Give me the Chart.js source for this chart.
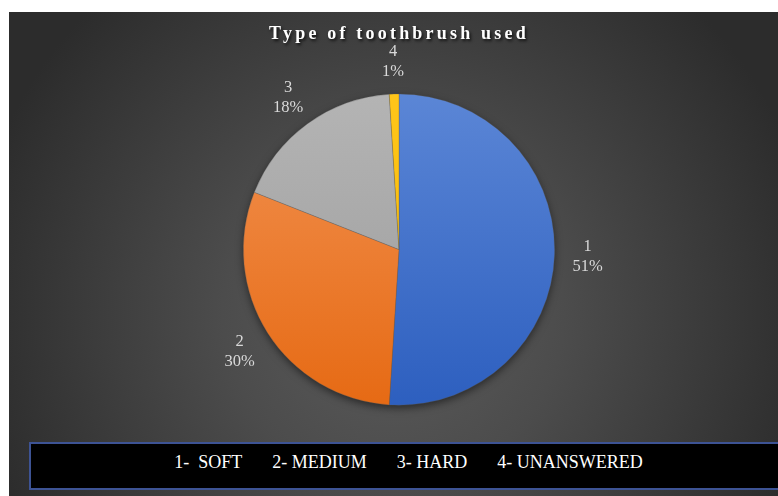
<!DOCTYPE html>
<html>
<head>
<meta charset="utf-8">
<script src="https://cdn.jsdelivr.net/npm/chart.js@4/dist/chart.umd.min.js"></script>
<style>
  html, body { margin:0; padding:0; background:#fff; }
  #wrap {
    position:absolute; left:9px; top:12px; width:769px; height:484px; overflow:hidden;
    background: radial-gradient(circle at 50% 62%, #5c5c5c 0%, #4c4c4c 35%, #2c2c2c 88%);
  }
  #wrap canvas { position:absolute; left:0; top:0; }
  #keyBox {
    position:absolute; left:20px; right:-10px; top:430px;
    border:2px solid #3d5394; background:#000;
    display:flex; justify-content:center; align-items:center; padding-bottom:7px; box-sizing:content-box;
    height:37px;
    font-family:'Liberation Serif', 'Times New Roman', serif; font-size:18px; color:#fff;
    white-space:pre;
  }
  #keyBox span { margin:0 15px; }
</style>
</head>
<body>
<div id="wrap">
  <canvas id="pie" width="769" height="484"></canvas>
  <div id="keyBox"></div>
</div>
<script>
// ---- data ----
const categories = ['1', '2', '3', '4'];
const typeNames = ['SOFT', 'MEDIUM', 'HARD', 'UNANSWERED'];
const shares = [51, 30, 18, 1];
const titleText = 'Type of toothbrush used';

// top / bottom colours of each slice (Excel style gradient)
const sliceTop = ['#5b86d6', '#f29252', '#b4b4b4', '#ffc51a'];
const sliceBottom = ['#2d5fbf', '#e66a14', '#9b9b9b', '#f5b800'];

// ---- key box under the chart ----
document.getElementById('keyBox').innerHTML = categories
  .map((c, i) => `<span>${c}-${i === 0 ? '  ' : ' '}${typeNames[i]}</span>`).join('');

// ---- plugins ----
const titleStyle = {
  id: 'titleStyle',
  beforeDraw(chart) {
    const ctx = chart.ctx;
    ctx.save();
    ctx.letterSpacing = '3.2px';
    ctx.shadowColor = 'rgba(0,0,0,0.75)';
    ctx.shadowBlur = 3;
    ctx.shadowOffsetX = 1.5;
    ctx.shadowOffsetY = 2;
  },
  beforeDatasetsDraw(chart) {
    chart.ctx.restore();
    // soft shadow behind the pie
    const arc = chart.getDatasetMeta(0).data[0];
    if (!arc) return;
    const { x, y, outerRadius } = arc.getProps(['x', 'y', 'outerRadius'], true);
    const ctx = chart.ctx;
    ctx.save();
    ctx.shadowColor = 'rgba(0,0,0,0.55)';
    ctx.shadowBlur = 8;
    ctx.shadowOffsetY = 3;
    ctx.fillStyle = '#3a3a3a';
    ctx.beginPath();
    ctx.arc(x, y, outerRadius - 0.5, 0, Math.PI * 2);
    ctx.fill();
    ctx.restore();
  }
};

const sliceLabels = {
  id: 'sliceLabels',
  afterDatasetsDraw(chart) {
    const ctx = chart.ctx;
    const vals = chart.data.datasets[0].data;
    const total = vals.reduce((s, v) => s + v, 0);
    ctx.save();
    ctx.font = '16.5px "Liberation Serif", "Times New Roman", serif';
    ctx.fillStyle = '#d9d9d9';
    ctx.textAlign = 'center';
    ctx.textBaseline = 'middle';
    chart.getDatasetMeta(0).data.forEach((arc, i) => {
      const p = arc.getProps(['x', 'y', 'startAngle', 'endAngle', 'outerRadius'], true);
      const mid = (p.startAngle + p.endAngle) / 2;
      const d = p.outerRadius + 33;
      const lx = p.x + Math.cos(mid) * d;
      const ly = p.y + Math.sin(mid) * d;
      ctx.fillText(chart.data.labels[i], lx, ly - 9);
      ctx.fillText(Math.round(vals[i] / total * 100) + '%', lx, ly + 11);
    });
    ctx.restore();
  }
};

function sliceFill(c) {
  const i = c.dataIndex;
  const area = c.chart.chartArea;
  if (!area) return sliceTop[i];
  const g = c.chart.ctx.createLinearGradient(0, area.top, 0, area.bottom);
  g.addColorStop(0, sliceTop[i]);
  g.addColorStop(1, sliceBottom[i]);
  return g;
}

// ---- chart ----
new Chart(document.getElementById('pie'), {
  type: 'pie',
  data: {
    labels: categories,
    datasets: [{
      data: shares,
      backgroundColor: sliceFill,
      borderWidth: 0.6,
      borderColor: 'rgba(90,90,90,0.5)'
    }]
  },
  options: {
    responsive: false,
    animation: false,
    layout: { padding: { left: 11, right: 0, top: 0, bottom: 90.5 } },
    plugins: {
      legend: { display: false },
      tooltip: { enabled: false },
      title: {
        display: true,
        text: titleText,
        color: '#ffffff',
        font: { family: "'Liberation Serif', 'Times New Roman', serif", size: 18, weight: 'bold' },
        padding: { top: 12, bottom: 48 }
      }
    }
  },
  plugins: [titleStyle, sliceLabels]
});
</script>
</body>
</html>
